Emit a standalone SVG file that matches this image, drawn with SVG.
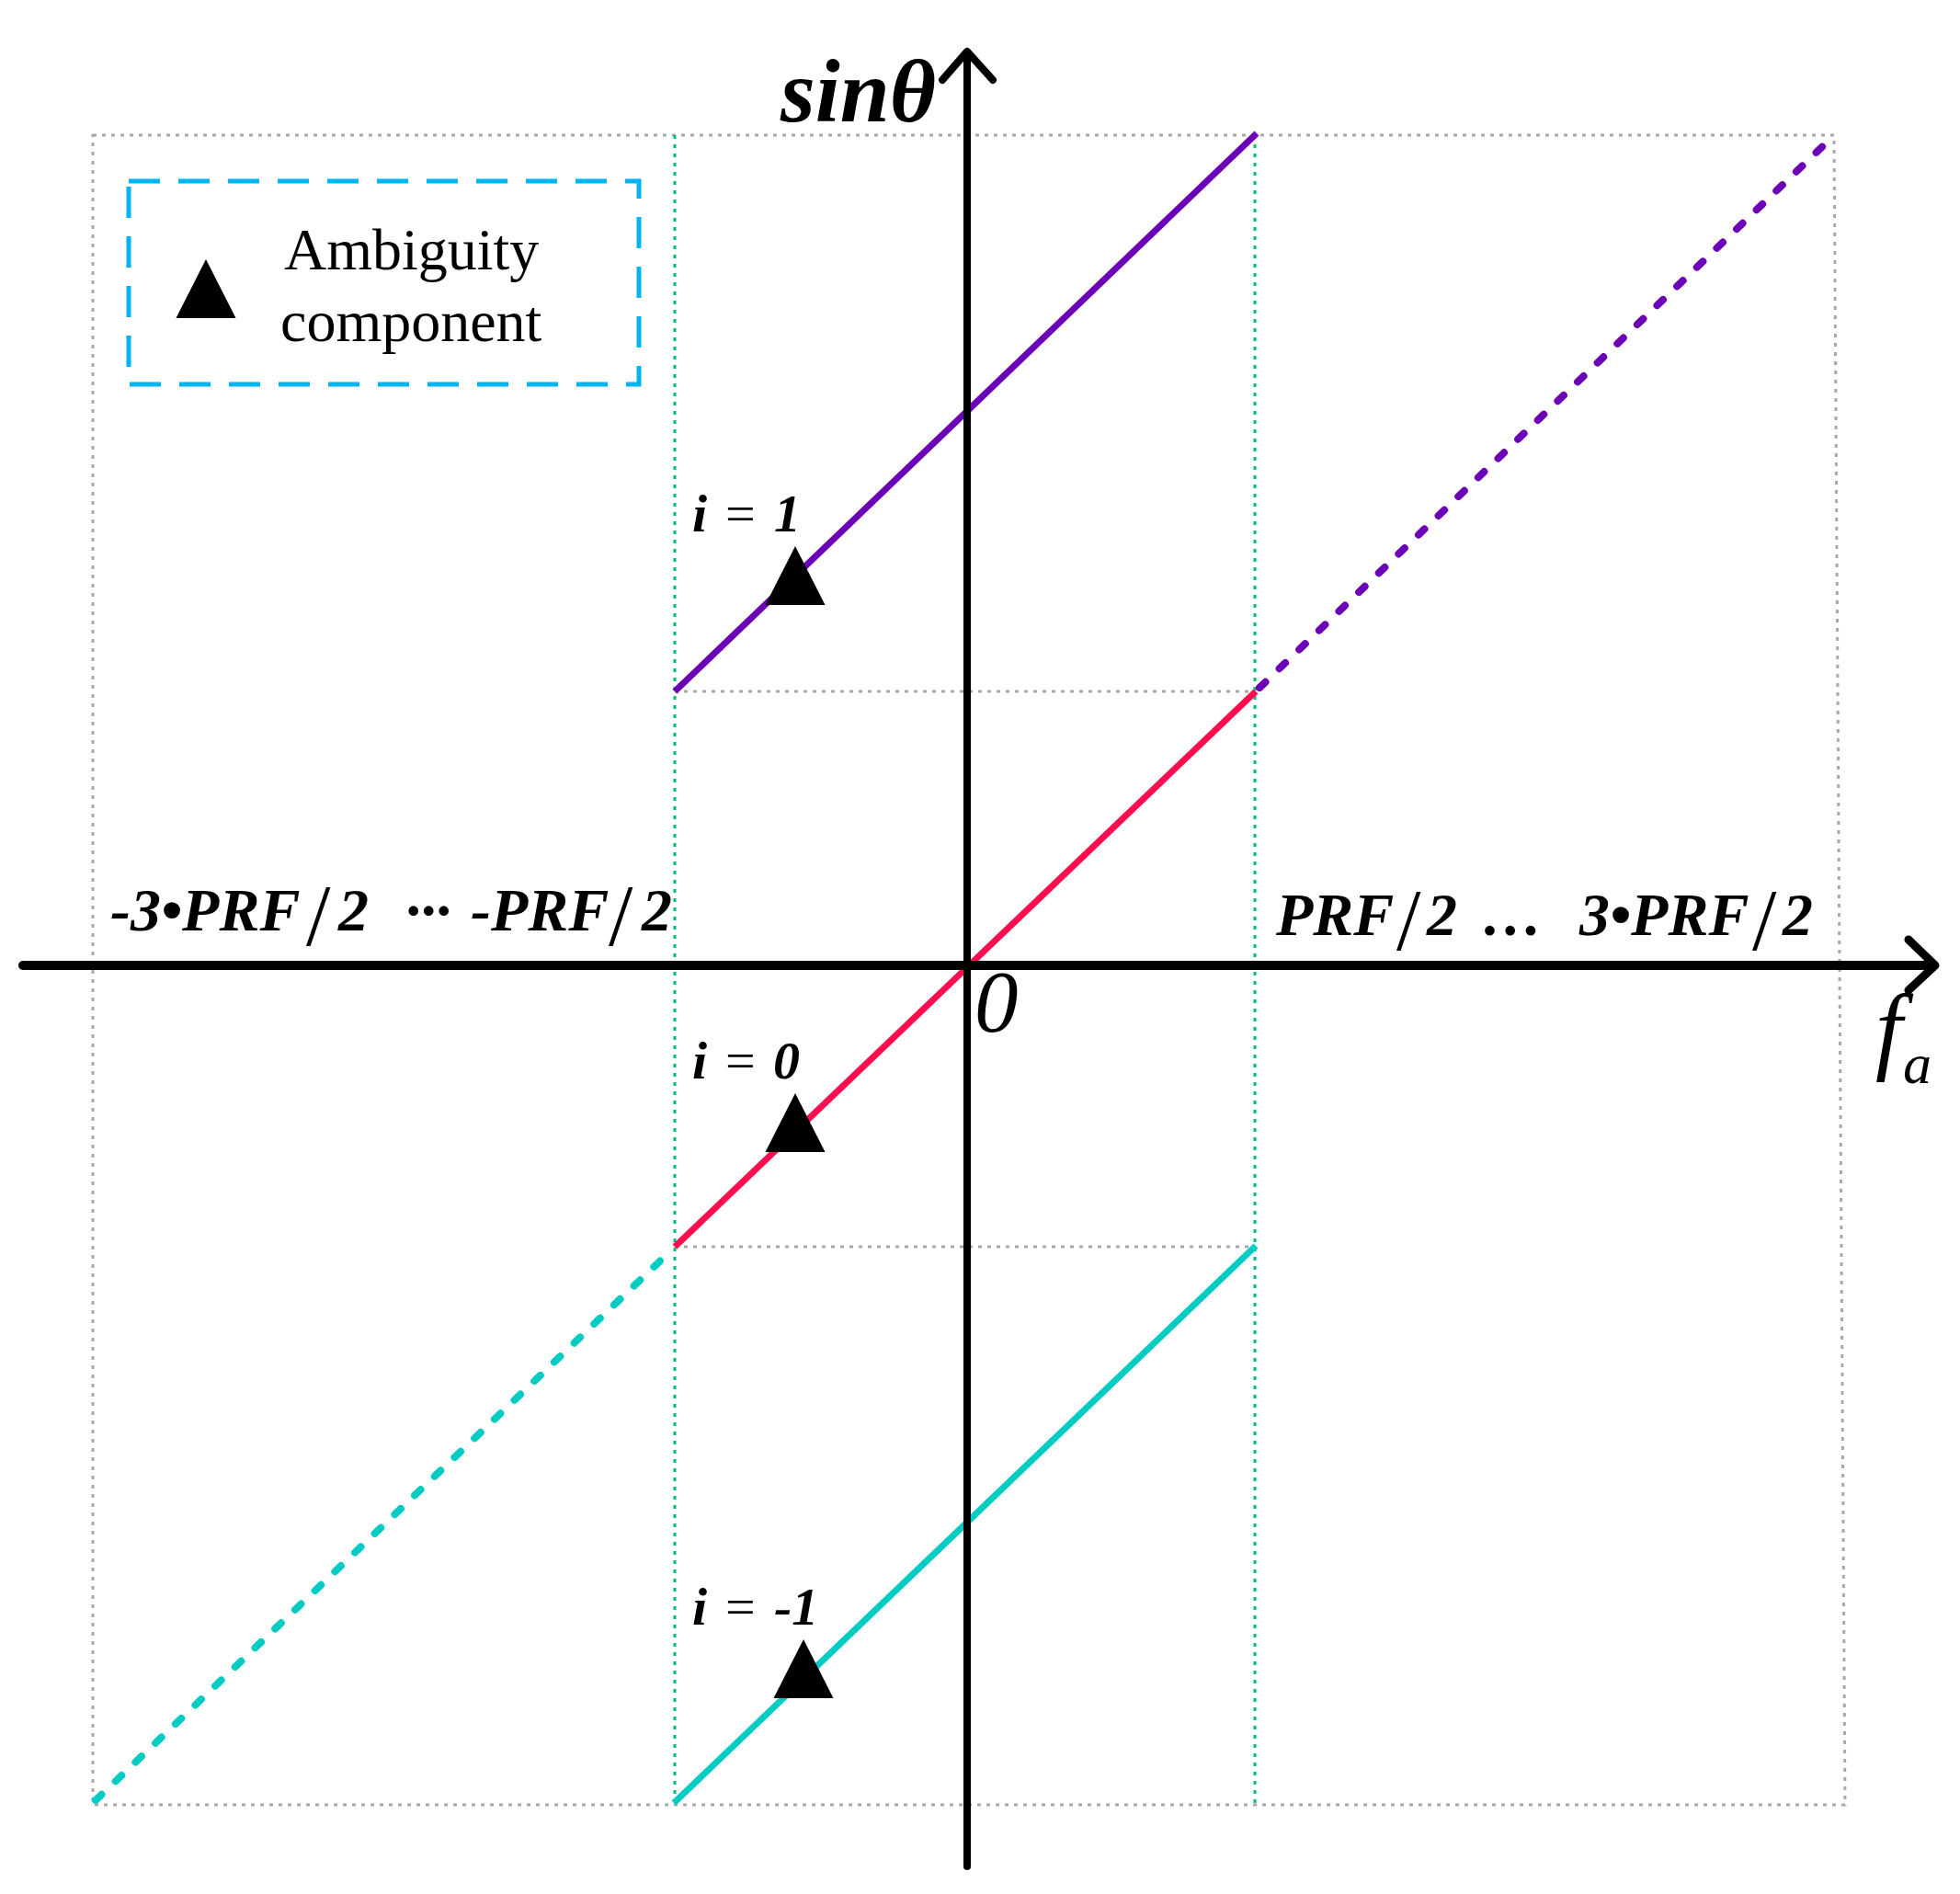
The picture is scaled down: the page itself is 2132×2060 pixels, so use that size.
<svg xmlns="http://www.w3.org/2000/svg" width="2132" height="2060" viewBox="0 0 2132 2060">
<style>
.gray{fill:none;stroke:#A8A8A8;stroke-width:3;stroke-dasharray:4 6}
.green{fill:none;stroke:#00BF6F;stroke-width:3;stroke-dasharray:4 6}
.axis{fill:none;stroke:#000;stroke-linecap:round;stroke-linejoin:round}
.solid{fill:none;stroke-width:7;stroke-linecap:butt}
.dash{fill:none;stroke-width:8;stroke-linecap:round;stroke-dasharray:9 21}
.purple{stroke:#6B00B6}
.red{stroke:#FF0D4F}
.cyan{stroke:#00CCC4}
.lab{font-family:"Liberation Serif","Times New Roman",serif;font-style:italic;font-weight:bold;font-size:66px;fill:#000}
.sl{font-family:"Liberation Serif","Times New Roman",serif;font-style:normal;font-weight:normal;font-size:95px;fill:#000}
.eq{font-family:"Liberation Serif","Times New Roman",serif;font-size:58px;fill:#000}
.leg{font-family:"Liberation Serif","Times New Roman",serif;font-size:64px;fill:#000}
</style>
<defs>
<path id="tri" d="M0,0 L32.5,64 L-32.5,64 Z" fill="#000"/>
</defs>
<g id="grid">
<polygon class="gray" points="101,147 1995,147 2007,1963 101,1963"/>
<line class="gray" x1="734" y1="752" x2="1365" y2="752"/>
<line class="gray" x1="734" y1="1356" x2="1365" y2="1356"/>
<line class="green" x1="734" y1="147" x2="734" y2="1962"/>
<line class="green" x1="1365" y1="147" x2="1365" y2="1962"/>
</g>
<g id="curves">
<line class="solid purple" x1="734" y1="752" x2="1367" y2="145"/>
<line class="dash purple" x1="1370" y1="748" x2="1990" y2="152"/>
<line class="solid red" x1="734" y1="1356" x2="1366" y2="752"/>
<line class="solid cyan" x1="733" y1="1961" x2="1366" y2="1355"/>
<line class="dash cyan" x1="104" y1="1958" x2="730" y2="1360"/>
</g>
<g id="axes">
<line class="axis" x1="25" y1="1050" x2="2103" y2="1050" stroke-width="10"/>
<polyline class="axis" points="2076,1022 2105,1050 2076,1077" stroke-width="9"/>
<line class="axis" x1="1052" y1="2030" x2="1052" y2="58" stroke-width="8"/>
<polyline class="axis" points="1025,87 1052,56 1080,87" stroke-width="8"/>
</g>
<g id="axis-labels">
<text x="849" y="132" font-family="Liberation Serif, Times New Roman, serif" font-style="italic" font-weight="bold" font-size="97">sinθ</text>
<text x="1060" y="1122" font-family="Liberation Serif, Times New Roman, serif" font-style="italic" font-size="95">0</text>
<text x="2040" y="1154" font-family="Liberation Serif, Times New Roman, serif" font-style="italic" font-size="105">f</text>
<text x="2070" y="1178" font-family="Liberation Serif, Times New Roman, serif" font-style="italic" font-size="62">a</text>
</g>
<g id="tick-left">
<text class="lab" x="120" y="1012">-3•PRF</text>
<text class="sl" x="333" y="1028">/</text>
<text class="lab" x="368" y="1012">2</text>
<text class="lab" x="441" y="1012">···</text>
<text class="lab" x="512" y="1012">-PRF</text>
<text class="sl" x="662" y="1028">/</text>
<text class="lab" x="698" y="1012">2</text>
</g>
<g id="tick-right">
<text class="lab" x="1388" y="1017">PRF</text>
<text class="sl" x="1519" y="1033">/</text>
<text class="lab" x="1552" y="1017">2</text>
<text class="lab" x="1612" y="1017">…</text>
<text class="lab" x="1718" y="1017">3•PRF</text>
<text class="sl" x="1906" y="1033">/</text>
<text class="lab" x="1939" y="1017">2</text>
</g>
<g id="branch-i1">
<text class="eq" y="578"><tspan x="753" font-style="italic" font-weight="bold">i</tspan><tspan x="789">=</tspan><tspan x="842" font-style="italic" font-weight="bold">1</tspan></text>
<use href="#tri" x="865" y="594"/>
</g>
<g id="branch-i0">
<text class="eq" y="1173"><tspan x="753" font-style="italic" font-weight="bold">i</tspan><tspan x="789">=</tspan><tspan x="841" font-style="italic" font-weight="bold">0</tspan></text>
<use href="#tri" x="865" y="1189"/>
</g>
<g id="branch-im1">
<text class="eq" y="1767"><tspan x="753" font-style="italic" font-weight="bold">i</tspan><tspan x="789">=</tspan><tspan x="842" font-style="italic" font-weight="bold">-1</tspan></text>
<use href="#tri" x="874" y="1783"/>
</g>
<g id="legend">
<rect x="140" y="197" width="555" height="221" fill="none" stroke="#00B4F0" stroke-width="5" stroke-dasharray="34 20"/>
<use href="#tri" x="224" y="282"/>
<text class="leg" x="309" y="293">Ambiguity</text>
<text class="leg" x="305" y="371">component</text>
</g>
</svg>
